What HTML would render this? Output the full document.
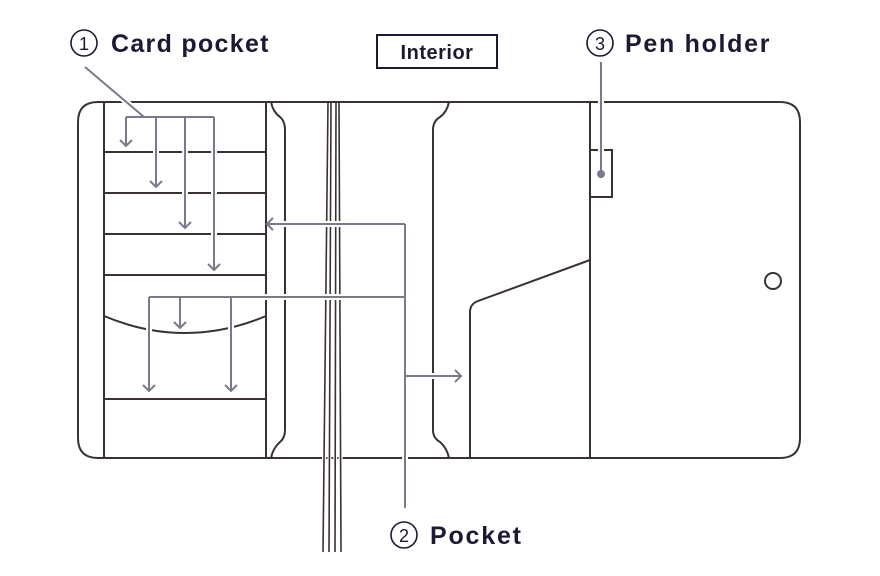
<!DOCTYPE html>
<html><head><meta charset="utf-8"><style>
html,body{margin:0;padding:0;background:#fff;width:880px;height:576px;overflow:hidden}
svg{display:block}
text{font-family:"Liberation Sans",sans-serif;font-weight:bold;fill:#1b1a33}
</style></head><body>
<svg width="880" height="576" viewBox="0 0 880 576" xmlns="http://www.w3.org/2000/svg">
<g fill="none" stroke="#3a3232" stroke-width="2">
  <path d="M100,102 H780 Q800,102 800,122 V438 Q800,458 780,458 H98 Q78,458 78,438 V122 Q78,102 98,102 Z"/>
  <line x1="104" y1="102" x2="104" y2="458"/>
  <line x1="266" y1="102" x2="266" y2="458"/>
  <line x1="104" y1="152" x2="266" y2="152"/>
  <line x1="104" y1="193" x2="266" y2="193"/>
  <line x1="104" y1="234" x2="266" y2="234"/>
  <line x1="104" y1="275" x2="266" y2="275"/>
  <line x1="104" y1="399" x2="266" y2="399"/>
  <path d="M104,316 Q185,350 266,316"/>
  <path d="M271,102 Q273,112 280,117 Q285,121 285,130 V430 Q285,438 280,442 Q273,448 271,458"/>
  <path d="M449,102 Q447,112 440,117 Q433,121 433,130 V430 Q433,438 440,442 Q447,448 449,458"/>
  <path d="M470,458 V312 Q470,304 478,301 L590,260"/>
  <line x1="590" y1="102" x2="590" y2="458"/>
  <rect x="590" y="150" width="22" height="47"/>
  <circle cx="773" cy="281" r="8"/>
</g>
<g fill="none" stroke="#fff" stroke-width="4">
  <line x1="328" y1="104" x2="323" y2="552"/>
  <line x1="331" y1="104" x2="329" y2="552"/>
  <line x1="336" y1="104" x2="335" y2="552"/>
  <line x1="339" y1="104" x2="341" y2="552"/>
</g>
<g fill="none" stroke="#3a3232" stroke-width="1.6">
  <line x1="328" y1="102" x2="323" y2="552"/>
  <line x1="331" y1="102" x2="329" y2="552"/>
  <line x1="336" y1="102" x2="335" y2="552"/>
  <line x1="339" y1="102" x2="341" y2="552"/>
</g>
<g fill="none" stroke="#fff" stroke-width="6">
  <path d="M85,67 L144,117"/>
  <path d="M126,117 H214"/>
  <path d="M126,117 V146 M156,117 V187 M185,117 V228 M214,117 V270"/>
  <path d="M405,224 V508"/>
  <path d="M405,224 H267"/>
  <path d="M149,297 H405"/>
  <path d="M149,297 V391 M180,297 V328 M231,297 V391"/>
  <path d="M405,376 H461"/>
  <path d="M601,62 V174"/>
</g>
<g fill="none" stroke="#7a7a8c" stroke-width="2">
  <path d="M85,67 L144,117"/>
  <path d="M126,117 H214"/>
  <path d="M126,117 V146 M156,117 V187 M185,117 V228 M214,117 V270"/>
  <path d="M405,224 V508"/>
  <path d="M405,224 H267"/>
  <path d="M149,297 H405"/>
  <path d="M149,297 V391 M180,297 V328 M231,297 V391"/>
  <path d="M405,376 H461"/>
  <path d="M601,62 V174"/>
  <path d="M120,140 L126,146 L132,140"/>
  <path d="M150,181 L156,187 L162,181"/>
  <path d="M179,222 L185,228 L191,222"/>
  <path d="M208,264 L214,270 L220,264"/>
  <path d="M174,322 L180,328 L186,322"/>
  <path d="M143,385 L149,391 L155,385"/>
  <path d="M225,385 L231,391 L237,385"/>
  <path d="M273,218 L267,224 L273,230"/>
  <path d="M455,370 L461,376 L455,382"/>
</g>
<circle cx="601" cy="174" r="4" fill="#7a7a8c"/>
<rect x="377" y="35" width="120" height="33" fill="none" stroke="#1b1a33" stroke-width="2"/>
<text x="437" y="59" font-size="20" text-anchor="middle" letter-spacing="0.5">Interior</text>
<g fill="none" stroke="#1b1a33" stroke-width="1.6">
  <circle cx="84" cy="43" r="13"/>
  <circle cx="600" cy="43" r="13"/>
  <circle cx="404" cy="535" r="13"/>
</g>
<text x="84" y="50" font-size="18" font-weight="normal" text-anchor="middle" style="font-weight:normal">1</text>
<text x="600" y="50" font-size="18" text-anchor="middle" style="font-weight:normal">3</text>
<text x="404" y="542" font-size="18" text-anchor="middle" style="font-weight:normal">2</text>
<text x="111" y="52" font-size="25" letter-spacing="1.3">Card pocket</text>
<text x="625" y="52" font-size="25" letter-spacing="1.7">Pen holder</text>
<text x="430" y="544" font-size="25" letter-spacing="1.8">Pocket</text>
</svg>
</body></html>
